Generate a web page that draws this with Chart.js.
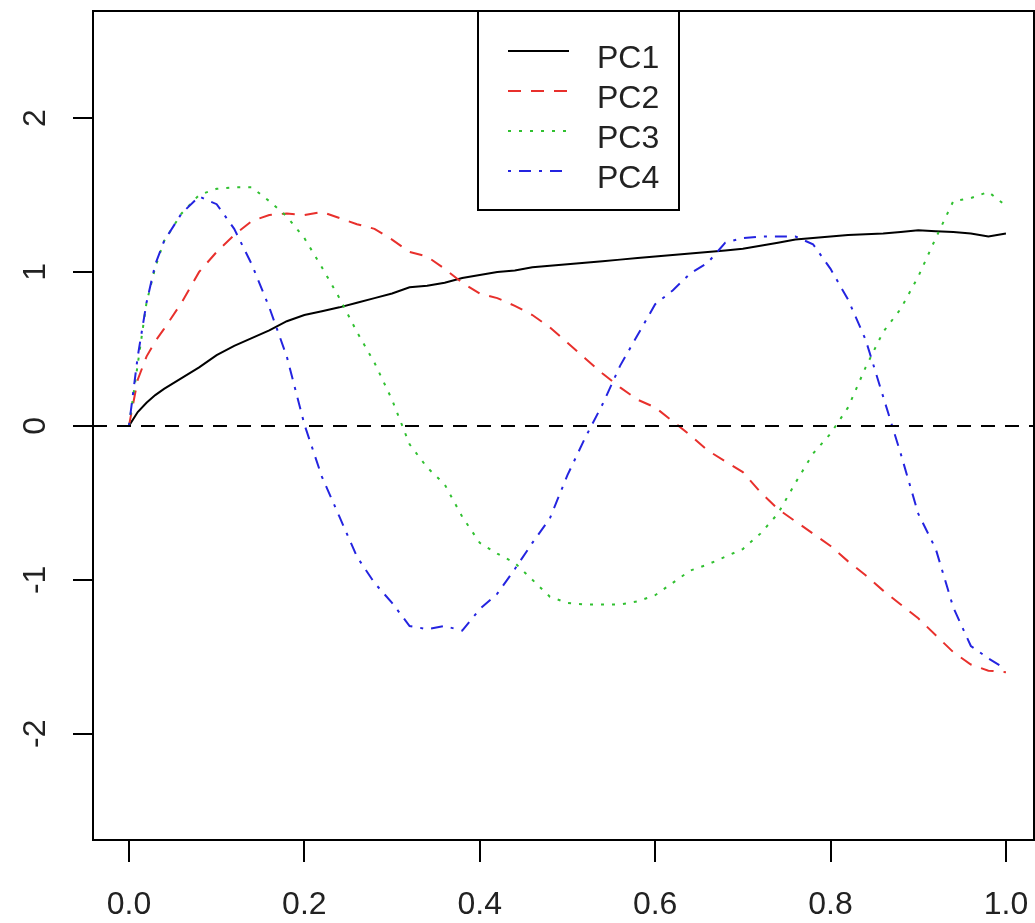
<!DOCTYPE html>
<html>
<head>
<meta charset="utf-8">
<script src="https://cdn.jsdelivr.net/npm/chart.js@4.4.0/dist/chart.umd.min.js"></script>
<style>
html,body{margin:0;padding:0;background:#fff;}
canvas{display:block;}
</style>
</head>
<body>
<canvas id="c" width="1035" height="923"></canvas>
<script>
const xs = [0,0.01,0.02,0.03,0.04,0.06,0.08,0.10,0.12,0.14,0.16,0.18,0.20,0.22,0.24,0.26,0.28,0.30,0.32,0.34,0.36,0.38,0.40,0.42,0.44,0.46,0.48,0.50,0.52,0.54,0.56,0.58,0.60,0.62,0.64,0.66,0.68,0.70,0.72,0.74,0.76,0.78,0.80,0.82,0.84,0.86,0.88,0.90,0.92,0.94,0.96,0.98,1.00];
const pc1 = [0,0.09,0.15,0.20,0.24,0.31,0.38,0.46,0.52,0.57,0.62,0.68,0.72,0.745,0.77,0.80,0.83,0.86,0.90,0.91,0.93,0.96,0.98,1.00,1.01,1.03,1.04,1.05,1.06,1.07,1.08,1.09,1.10,1.11,1.12,1.13,1.14,1.15,1.17,1.19,1.21,1.22,1.23,1.24,1.245,1.25,1.26,1.27,1.265,1.26,1.25,1.23,1.25];
const pc2 = [0,0.30,0.45,0.55,0.63,0.80,1.00,1.13,1.24,1.33,1.37,1.38,1.37,1.39,1.35,1.31,1.28,1.21,1.13,1.10,1.02,0.93,0.86,0.83,0.78,0.72,0.64,0.54,0.44,0.34,0.25,0.17,0.12,0.03,-0.06,-0.16,-0.23,-0.30,-0.43,-0.54,-0.62,-0.70,-0.78,-0.88,-0.97,-1.07,-1.16,-1.25,-1.36,-1.47,-1.55,-1.59,-1.60];
const pc3 = [0,0.40,0.80,1.03,1.20,1.38,1.50,1.54,1.55,1.55,1.46,1.36,1.22,1.03,0.83,0.61,0.41,0.17,-0.12,-0.27,-0.38,-0.59,-0.76,-0.83,-0.89,-1.00,-1.11,-1.15,-1.16,-1.16,-1.16,-1.14,-1.10,-1.02,-0.94,-0.90,-0.85,-0.80,-0.70,-0.57,-0.37,-0.18,-0.05,0.12,0.38,0.61,0.76,0.97,1.22,1.46,1.48,1.52,1.43];
const pc4 = [0,0.45,0.80,1.05,1.20,1.38,1.49,1.44,1.28,1.05,0.77,0.45,0.01,-0.33,-0.59,-0.85,-1.02,-1.15,-1.30,-1.32,-1.30,-1.33,-1.19,-1.09,-0.93,-0.76,-0.60,-0.32,-0.08,0.14,0.39,0.59,0.79,0.88,0.99,1.06,1.19,1.22,1.23,1.23,1.23,1.18,1.02,0.82,0.56,0.19,-0.18,-0.57,-0.80,-1.18,-1.43,-1.51,-1.58];
const seriesNames = ["PC1","PC2","PC3","PC4"];
const xTicks = [0,0.2,0.4,0.6,0.8,1.0];
const xTickLabels = ["0.0","0.2","0.4","0.6","0.8","1.0"];
const yTicks = [-2,-1,0,1,2];
const yTickLabels = ["-2","-1","0","1","2"];

const colors = ["#000000","#e8302c","#30c030","#2424e0"];
const dashes = [[],[13,10],[3,8],[3,8,12,8]];
const allSeries = [pc1,pc2,pc3,pc4];
const FONT = '32px "Liberation Sans", Arial, sans-serif';

const datasets = allSeries.map((s,i)=>({
  label: seriesNames[i],
  data: xs.map((x,j)=>({x:x,y:s[j]})),
  borderColor: colors[i],
  borderWidth: 2,
  borderDash: dashes[i],
  pointRadius: 0,
  tension: 0,
  fill: false,
  order: 3-i
}));

const decor = {
  id:'decor',
  afterDatasetsDraw(chart){
    const ctx = chart.ctx, a = chart.chartArea, ys = chart.scales.y;
    ctx.save();
    ctx.beginPath();
    ctx.rect(a.left,a.top,a.right-a.left,a.bottom-a.top);
    ctx.clip();
    const y0 = Math.round(ys.getPixelForValue(0));
    ctx.strokeStyle = '#000';
    ctx.lineWidth = 2;
    ctx.setLineDash([14,10]);
    ctx.beginPath();
    ctx.moveTo(a.left,y0); ctx.lineTo(a.right,y0);
    ctx.stroke();
    ctx.restore();
  },
  afterDraw(chart){
    const ctx = chart.ctx, a = chart.chartArea;
    const xsS = chart.scales.x, ysS = chart.scales.y;
    ctx.save();
    // legend box
    const lx = 478, ly = a.top, lw = 201, lh = 199;
    ctx.fillStyle = '#fff';
    ctx.fillRect(lx,ly,lw,lh);
    ctx.strokeStyle = '#000';
    ctx.lineWidth = 2;
    ctx.setLineDash([]);
    ctx.strokeRect(lx,ly,lw,lh);
    ctx.font = FONT;
    ctx.textAlign = 'left';
    ctx.textBaseline = 'alphabetic';
    for (let i=0;i<seriesNames.length;i++){
      const yy = 51 + i*40;
      ctx.strokeStyle = colors[i];
      ctx.lineWidth = 2;
      ctx.setLineDash(dashes[i]);
      ctx.beginPath();
      ctx.moveTo(508,yy); ctx.lineTo(569,yy);
      ctx.stroke();
      ctx.fillStyle = '#222';
      ctx.fillText(seriesNames[i], 597, yy+17);
    }
    // plot box
    ctx.setLineDash([]);
    ctx.strokeStyle = '#000';
    ctx.lineWidth = 2;
    ctx.strokeRect(a.left,a.top,a.right-a.left,a.bottom-a.top);
    // tick labels
    ctx.fillStyle = '#222';
    ctx.font = FONT;
    ctx.textAlign = 'center';
    ctx.textBaseline = 'alphabetic';
    xTicks.forEach((v,i)=>{
      ctx.fillText(xTickLabels[i], xsS.getPixelForValue(v), 914);
    });
    yTicks.forEach((v,i)=>{
      ctx.save();
      ctx.translate(45, ysS.getPixelForValue(v));
      ctx.rotate(-Math.PI/2);
      ctx.fillText(yTickLabels[i], 0, 0);
      ctx.restore();
    });
    ctx.restore();
  }
};

new Chart(document.getElementById('c'), {
  type:'line',
  data:{datasets},
  options:{
    responsive:false,
    animation:false,
    events:[],
    layout:{padding:{top:11,right:1,left:0,bottom:0}},
    plugins:{legend:{display:false},tooltip:{enabled:false}},
    scales:{
      x:{
        type:'linear', min:-0.041, max:1.032,
        afterBuildTicks:(s)=>{ s.ticks = xTicks.map(v=>({value:v})); },
        afterFit:(s)=>{ s.height = 83; },
        ticks:{display:false},
        border:{display:false},
        grid:{drawOnChartArea:false, drawTicks:true, tickLength:22, color:'#000', lineWidth:2}
      },
      y:{
        type:'linear', min:-2.69, max:2.695,
        afterBuildTicks:(s)=>{ s.ticks = yTicks.map(v=>({value:v})); },
        afterFit:(s)=>{ s.width = 93; },
        ticks:{display:false},
        border:{display:false},
        grid:{drawOnChartArea:false, drawTicks:true, tickLength:20, color:'#000', lineWidth:2}
      }
    }
  },
  plugins:[decor]
});
</script>
</body>
</html>
